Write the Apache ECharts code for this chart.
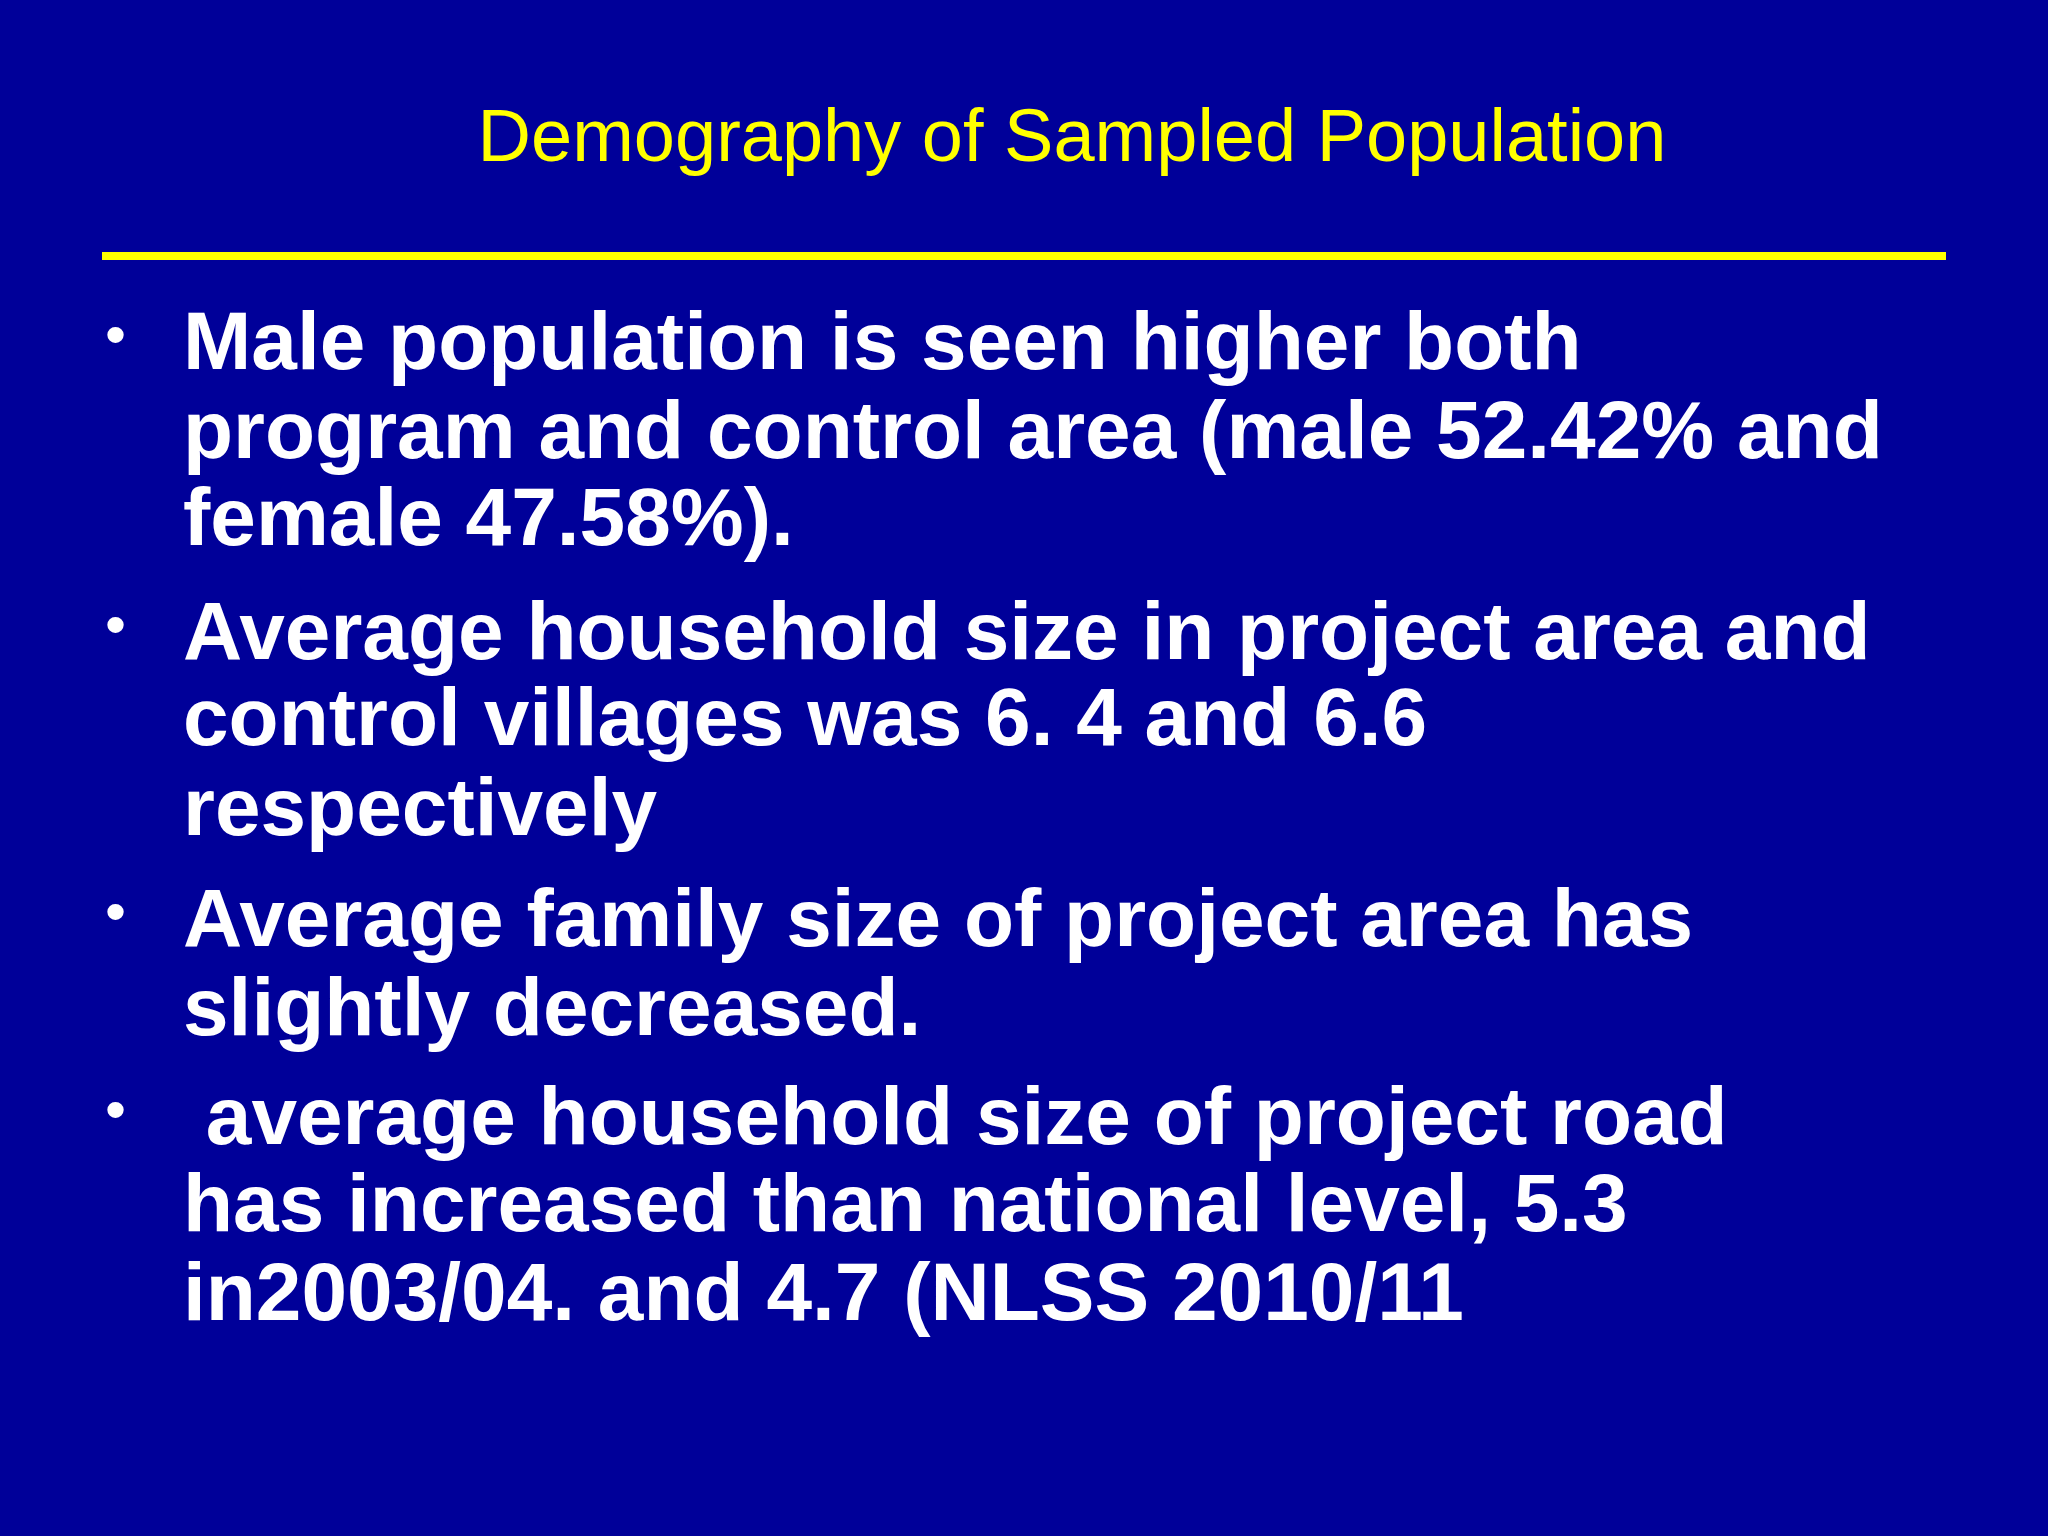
<!DOCTYPE html>
<html><head><meta charset="utf-8">
<script src="https://cdn.jsdelivr.net/npm/echarts@6/dist/echarts.min.js"></script>
<style>html,body{margin:0;padding:0;background:#000099}#c{width:2048px;height:1536px}</style>
</head><body><div id="c"></div>
<script>
const title = "Demography of Sampled Population";
const bullets = [
  ["Male population is seen higher both", "program and control area (male 52.42% and", "female 47.58%)."],
  ["Average household size in project area and", "control villages was 6. 4 and 6.6", "respectively"],
  ["Average family size of project area has", "slightly decreased."],
  [" average household size of project road", "has increased than national level, 5.3", "in2003/04. and 4.7 (NLSS 2010/11"]
];
const lineCenters = [346,435,522,636,722,812,923,1012,1121,1208,1297];
const chart = echarts.init(document.getElementById('c'));
const els = [
  {type:'rect', shape:{x:0,y:0,width:2048,height:1536}, style:{fill:'#000099'}},
  {type:'text', style:{text:title, x:1072, y:141, textAlign:'center', textVerticalAlign:'middle',
    font:'74px "Liberation Sans", Arial, sans-serif', fill:'#ffff00'}},
  {type:'rect', shape:{x:102,y:252,width:1844,height:8}, style:{fill:'#ffff00'}}
];
let k = 0;
bullets.forEach(b => {
  els.push({type:'text', style:{text:'•', x:105, y:lineCenters[k]-8, textVerticalAlign:'middle',
    font:'60px "Liberation Sans", Arial, sans-serif', fill:'#ffffff'}});
  b.forEach(line => {
    els.push({type:'text', style:{text:line, x:183, y:lineCenters[k], textVerticalAlign:'middle',
      font:'bold 82px "Liberation Sans", Arial, sans-serif', fill:'#ffffff'}});
    k++;
  });
});
chart.setOption({backgroundColor:'#000099', graphic:els});
</script></body></html>
